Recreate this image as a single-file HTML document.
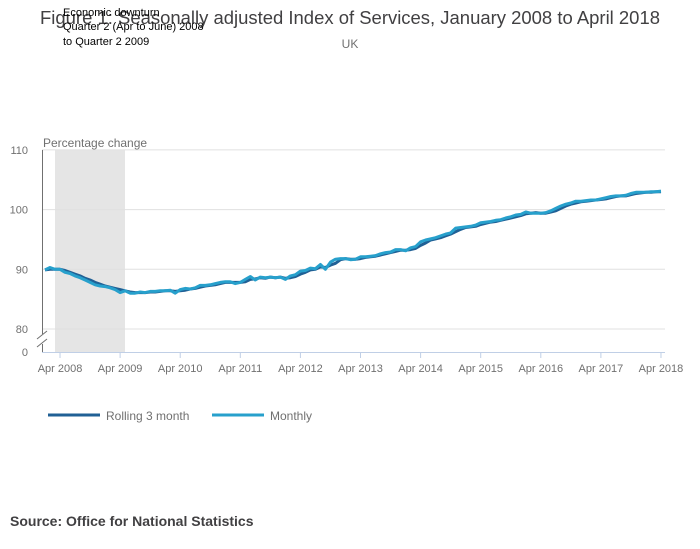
<!DOCTYPE html>
<html><head><meta charset="utf-8"><style>
body{margin:0;background:#fff;font-family:"Liberation Sans",sans-serif}
svg{display:block}
</style></head><body>
<svg id="chart" width="700" height="549">
<rect x="55" y="150" width="70" height="202" fill="#e5e5e5"/>
<g id="grid"></g>
<g id="lines"></g>
<text x="350" y="24" text-anchor="middle" font-size="18" fill="#414042" textLength="620" lengthAdjust="spacingAndGlyphs">Figure 1: Seasonally adjusted Index of Services, January 2008 to April 2018</text>
<text x="350" y="48" text-anchor="middle" font-size="12" fill="#707070">UK</text>
<g font-size="11" fill="#000">
<text x="63" y="16">Economic downturn</text>
<text x="63" y="30">Quarter 2 (Apr to June) 2008</text>
<text x="63" y="45">to Quarter 2 2009</text>
</g>
<text x="43" y="147" font-size="12" fill="#707070">Percentage change</text>
<g id="legend" font-size="12" fill="#707070">
<line x1="48" y1="415" x2="100" y2="415" stroke="#206095" stroke-width="3"/>
<text x="106" y="420">Rolling 3 month</text>
<line x1="212" y1="415" x2="264" y2="415" stroke="#27a0cc" stroke-width="3"/>
<text x="270" y="420">Monthly</text>
</g>
<text x="10" y="526" font-size="14" font-weight="bold" fill="#414042">Source: Office for National Statistics</text>
</svg>
<script>
const yTicks=[80,90,100,110];
const xTickLabels=["Apr 2008","Apr 2009","Apr 2010","Apr 2011","Apr 2012","Apr 2013","Apr 2014","Apr 2015","Apr 2016","Apr 2017","Apr 2018"];
const monthly=[89.9,90.3,90.0,90.0,89.5,89.3,88.9,88.6,88.2,87.8,87.4,87.2,
87.1,86.9,86.6,86.1,86.4,86.0,86.0,86.2,86.1,86.3,86.3,86.4,
86.4,86.5,86.0,86.6,86.8,86.7,86.9,87.3,87.3,87.4,87.6,87.8,
87.9,87.9,87.6,87.8,88.3,88.8,88.2,88.7,88.6,88.7,88.6,88.7,
88.3,88.9,89.1,89.7,89.8,90.2,90.1,90.8,90.0,91.2,91.7,91.8,
91.8,91.6,91.7,92.1,92.1,92.2,92.3,92.6,92.8,92.9,93.3,93.3,
93.1,93.6,93.8,94.6,94.9,95.1,95.3,95.6,95.9,96.1,96.9,97.0,
97.1,97.2,97.4,97.8,97.9,98.0,98.2,98.3,98.6,98.8,99.1,99.2,
99.6,99.4,99.4,99.4,99.5,99.8,100.2,100.6,100.9,101.1,101.4,101.4,
101.5,101.6,101.6,101.8,102.0,102.2,102.3,102.3,102.4,102.7,102.9,102.9,
102.9,103.0,103.0,103.1];
const rolling=[89.9,90.0,90.0,90.0,89.8,89.5,89.2,88.9,88.5,88.2,87.8,87.5,
87.2,87.0,86.8,86.6,86.4,86.2,86.1,86.1,86.1,86.2,86.2,86.3,
86.4,86.4,86.3,86.4,86.5,86.7,86.8,87.0,87.2,87.3,87.4,87.6,
87.8,87.8,87.8,87.8,87.9,88.3,88.4,88.6,88.5,88.7,88.6,88.7,
88.5,88.6,88.8,89.2,89.5,89.9,90.0,90.4,90.3,90.7,91.0,91.6,
91.8,91.7,91.7,91.8,92.0,92.1,92.2,92.4,92.6,92.8,93.0,93.2,
93.2,93.3,93.5,94.0,94.4,94.9,95.1,95.3,95.6,95.9,96.3,96.7,
97.0,97.1,97.2,97.5,97.7,97.9,98.0,98.2,98.4,98.6,98.8,99.0,
99.3,99.4,99.5,99.4,99.4,99.6,99.8,100.2,100.6,100.9,101.1,101.3,
101.4,101.5,101.6,101.7,101.8,102.0,102.2,102.3,102.3,102.5,102.7,102.8,
102.9,102.9,103.0,103.0];
const NS="http://www.w3.org/2000/svg";
function X(i){return 45+i*5.008;}
function Y(v){return v>=80?329-(v-80)*5.97:352-(v)*23/80;}
function mk(t,a,p){const e=document.createElementNS(NS,t);for(const k in a)e.setAttribute(k,a[k]);p.appendChild(e);return e;}
const grid=document.getElementById('grid'),lines=document.getElementById('lines');
yTicks.forEach(v=>{
 const y=Y(v);
 const l=mk('line',{x1:42,x2:665,y1:y,y2:y,stroke:'#e0e0e0','stroke-width':1},grid);
 
 
 const t=mk('text',{x:28,y:y+4,'text-anchor':'end','font-size':11,fill:'#707070'},grid);
 t.textContent=v;
 
 
});
const z=mk('text',{x:28,y:356,'text-anchor':'end','font-size':11,fill:'#707070'},grid);z.textContent='0';


const ax=mk('line',{x1:42.5,x2:42.5,y1:150,y2:352,stroke:'#707070'},grid);


const br=mk('rect',{x:36,y:334,width:13,height:10,fill:'#fff'},grid);


mk('line',{x1:37,y1:339,x2:47,y2:331,stroke:'#707070'},grid);
mk('line',{x1:37,y1:347,x2:47,y2:339,stroke:'#707070'},grid);
const xa=mk('line',{x1:42,x2:665,y1:352.5,y2:352.5,stroke:'#c0cfe6'},grid);


xTickLabels.forEach((s,k)=>{
 const x=X(3+12*k);
 mk('line',{x1:x,x2:x,y1:352,y2:358,stroke:'#c0cfe6'},grid);
 const t=mk('text',{x:x,y:372,'text-anchor':'middle','font-size':11,fill:'#707070'},grid);
 t.textContent=s;
 
 
});
function path(arr,col,name){
 const d=arr.map((v,i)=>(i?'L':'M')+X(i).toFixed(1)+','+Y(v).toFixed(1)).join('');
 const p=mk('path',{d:d,fill:'none',stroke:col,'stroke-width':3,'stroke-linejoin':'round'},lines);
 
 
}
path(rolling,'#206095','rolling-3-month-line');
path(monthly,'#27a0cc','monthly-line');
</script>
</body></html>
